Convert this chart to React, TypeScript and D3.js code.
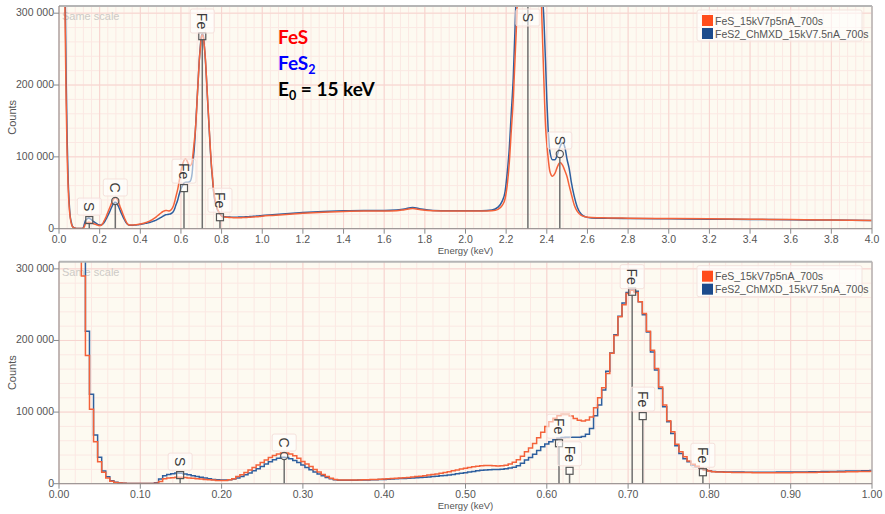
import React from "react";
import * as d3 from "d3";

const W = 885;
const H = 514;
const PLOT_L = 59;
const PLOT_R = 872;
const Y_MAX = 310000;
const CH_WIDTH = 0.005; // keV per channel

// FeS counts per channel, 0 - 1 keV (5 eV channels)
const fesLow = [
  900000, 900000, 900000, 900000, 750000, 450000, 290000, 179000, 104000, 58600,
  30700, 15900, 7800, 3500, 1800, 900, 500, 300, 200, 200,
  200, 200, 200, 300, 800, 3000, 7000, 8000, 8400, 9000,
  9000, 8500, 8000, 7500, 7000, 6500, 6000, 5500, 5000, 4500,
  4300, 4500, 5500, 7000, 10000, 12500, 15500, 19000, 22500, 26000,
  29500, 33000, 36500, 39500, 41500, 43000, 43000, 41500, 39000, 35500,
  31000, 27500, 24000, 20000, 16500, 13000, 10000, 7500, 6000, 5200,
  5000, 5000, 5100, 5200, 5300, 5400, 5600, 5800, 6000, 6200,
  6500, 6800, 7100, 7500, 7900, 8400, 8800, 9300, 9900, 10500,
  11200, 12000, 12800, 13700, 14700, 15700, 16800, 18000, 19200, 20400,
  21500, 22600, 23600, 24400, 25000, 25300, 25300, 25000, 24800, 25000,
  25800, 27500, 30000, 33500, 38500, 44500, 50000, 56000, 64000, 72000,
  80000, 86500, 91500, 95000, 96800, 96500, 94500, 91000, 88500, 87500,
  89000, 93000, 106000, 120000, 134000, 154000, 182000, 207000, 233000, 250000,
  265600, 270000, 267000, 254000, 237700, 213000, 186500, 161000, 135000, 109800,
  88000, 72500, 55000, 44600, 37700, 31700, 27000, 24300, 21500, 19200,
  17700, 16700, 16400, 16200, 16000, 15900, 15800, 15700, 15600, 15500,
  15500, 15400, 15400, 15300, 15300, 15300, 15300, 15300, 15400, 15400,
  15400, 15500, 15500, 15600, 15600, 15700, 15800, 15900, 16000, 16100,
  16200, 16300, 16400, 16500, 16600, 16700, 16800, 16900, 17000, 17200, 17400,
];

// FeS2 counts per channel, 0 - 1 keV
const fes2Low = [
  900000, 900000, 900000, 900000, 800000, 520000, 340000, 213000, 125000, 68000,
  36800, 17700, 9800, 4200, 2000, 1000, 600, 400, 300, 300,
  200, 200, 200, 400, 1500, 6500, 11200, 13000, 14000, 15000,
  14500, 13500, 12500, 11000, 10000, 9000, 8000, 7000, 6000, 5500,
  5000, 5000, 5500, 6500, 8000, 10000, 12500, 15000, 18000, 21000,
  24000, 27500, 30500, 33500, 35500, 36800, 36500, 35000, 32500, 29500,
  26000, 22500, 19500, 16500, 13500, 11000, 8500, 6800, 5500, 4900,
  4700, 4700, 4800, 4900, 5000, 5100, 5200, 5400, 5600, 5800,
  6000, 6200, 6500, 6800, 7100, 7400, 7700, 8000, 8300, 8700,
  9100, 9500, 10000, 10500, 11000, 11600, 12300, 13000, 13800, 14600,
  15400, 16200, 17100, 18000, 18800, 19300, 19600, 19800, 20000, 20300,
  20800, 21800, 23000, 25000, 28500, 33000, 36500, 41000, 46500, 51500,
  55500, 58600, 61500, 63500, 64500, 64700, 64700, 64700, 65000, 66000,
  69000, 77000, 95000, 110000, 131000, 157000, 182500, 208000, 234000, 252500,
  267000, 271000, 268600, 254000, 236000, 212000, 184000, 158600, 133000, 107500,
  86500, 70000, 53000, 42300, 35000, 30700, 26000, 23700, 21500, 19500,
  18000, 17000, 16800, 16600, 16500, 16400, 16300, 16200, 16200, 16100,
  16100, 16100, 16100, 16100, 16100, 16100, 16100, 16200, 16200, 16200,
  16300, 16300, 16400, 16500, 16500, 16600, 16700, 16800, 16900, 17000,
  17100, 17200, 17300, 17400, 17600, 17700, 17800, 17900, 18100, 18200, 18400,
];

// 1 - 4 keV, read at irregular energies
const hiEnergy = [
  1.05, 1.1, 1.2, 1.3, 1.4, 1.5, 1.6, 1.66, 1.7, 1.74,
  1.78, 1.84, 1.92, 2.0, 2.08, 2.13, 2.16, 2.18, 2.195, 2.205,
  2.215, 2.225, 2.235, 2.245, 2.255, 2.27, 2.3, 2.34, 2.37, 2.378,
  2.386, 2.394, 2.4, 2.406, 2.415, 2.428, 2.44, 2.452, 2.465, 2.478,
  2.49, 2.5, 2.51, 2.52, 2.535, 2.55, 2.57, 2.59, 2.62, 2.7,
  2.8, 3.0, 3.2, 3.4, 3.6, 3.8, 4.0,
];
const fesHigh = [
  18500, 19500, 21500, 23000, 24000, 24500, 24500, 25000, 26500, 28000,
  26500, 25000, 24500, 24500, 24500, 25000, 27000, 32000, 42000, 60000,
  90000, 135000, 180000, 245000, 320000, 600000, 1400000, 900000, 350000, 272000,
  203000, 142000, 118000, 100000, 80000, 73000, 77000, 86000, 92000, 88000,
  80000, 72000, 60000, 49000, 33000, 24000, 18500, 16500, 15500, 15000,
  14700, 14200, 13700, 13200, 12700, 12200, 11500,
];
const fes2High = [
  19500, 20500, 22500, 24000, 25000, 25500, 25500, 26000, 27500, 29500,
  27500, 25500, 25000, 25000, 25000, 26000, 30000, 38000, 52000, 77000,
  110000, 160000, 210000, 290000, 380000, 700000, 1500000, 1100000, 480000, 340000,
  290000, 230000, 180000, 142000, 108000, 96000, 96000, 103000, 114000, 120000,
  112000, 96000, 84000, 66000, 45000, 30000, 20000, 16500, 15000, 14600,
  14300, 13800, 13300, 12900, 12400, 12000, 11300,
];

// element line markers
const lineEnergy = [0.149, 0.277, 0.615, 0.628, 0.705, 0.718, 0.792, 2.307, 2.464];
const lineLabel = ["S", "C", "Fe", "Fe", "Fe", "Fe", "Fe", "S", "S"];
const lineHeight = [12000, 38600, 56500, 18000, 268000, 94400, 16000, 1500000, 104000];
const lineShape = ["square", "circle", "square", "square", "square", "square", "square", "square", "circle"];
const lineOnOverview = [true, true, true, false, true, false, true, true, true];

const seriesNames = ["FeS_15kV7p5nA_700s", "FeS2_ChMXD_15kV7.5nA_700s"];
const legendColors = ["#ff4d1c", "#1c4b8c"];
const yTicks = [0, 100000, 200000, 300000];

const RED = "#f4623a";
const BLUE = "#2e5f9e";
const BG = "#fdfaf1";
const GRID_MAJOR = "#f7d4cf";
const GRID_MINOR = "#fbe8e3";
const FONT = "'Liberation Sans', Arial, sans-serif";

type Pt = [number, number];

const lowPts = (vals: number[]): Pt[] => vals.map((v, i) => [i * CH_WIDTH, v] as Pt);
const fesAll = lowPts(fesLow).concat(hiEnergy.map((e, i) => [e, fesHigh[i]] as Pt));
const fes2All = lowPts(fes2Low).concat(hiEnergy.map((e, i) => [e, fes2High[i]] as Pt));

const fmtCounts = (v: number) => d3.format(",")(v).replace(/,/g, " ");

function Panel(props: {
  id: string;
  y0: number;
  y1: number;
  xMax: number;
  major: number;
  minor: number;
  fmt: string;
  red: Pt[];
  blue: Pt[];
  curve: d3.CurveFactory;
  overview: boolean;
}) {
  const { id, y0, y1, xMax, major, minor, fmt, red, blue, curve, overview } = props;
  const x = d3.scaleLinear().domain([0, xMax]).range([PLOT_L, PLOT_R]);
  const y = d3.scaleLinear().domain([0, Y_MAX]).range([y1, y0]);
  const line = d3
    .line<Pt>()
    .x((d) => x(d[0]))
    .y((d) => y(d[1]))
    .curve(curve);
  const xf = d3.format(fmt);
  const xMajor = d3.range(0, xMax + 1e-9, major);
  const xMinor = d3.range(0, xMax + 1e-9, minor);
  const yMinor = d3.range(0, Y_MAX, 20000);

  const marks = lineEnergy
    .map((e, i) => ({ e, i }))
    .filter((m) => m.e <= xMax && (overview ? lineOnOverview[m.i] : true));

  return (
    <g>
      <rect x={PLOT_L} y={y0} width={PLOT_R - PLOT_L} height={y1 - y0} fill={BG} />
      {xMinor.map((v, i) => (
        <line key={"xm" + i} x1={x(v)} x2={x(v)} y1={y0} y2={y1} stroke={GRID_MINOR} />
      ))}
      {yMinor.map((v, i) => (
        <line key={"ym" + i} x1={PLOT_L} x2={PLOT_R} y1={y(v)} y2={y(v)} stroke={GRID_MINOR} />
      ))}
      {xMajor.map((v, i) => (
        <line key={"xM" + i} x1={x(v)} x2={x(v)} y1={y0} y2={y1} stroke={GRID_MAJOR} />
      ))}
      {yTicks.map((v, i) => (
        <line key={"yM" + i} x1={PLOT_L} x2={PLOT_R} y1={y(v)} y2={y(v)} stroke={GRID_MAJOR} />
      ))}
      <text x={PLOT_L + 3} y={y0 + 14} fontSize={11} fill="#cdcac6" fontFamily={FONT}>
        Same scale
      </text>
      <clipPath id={id}>
        <rect x={PLOT_L} y={y0} width={PLOT_R - PLOT_L} height={y1 - y0} />
      </clipPath>
      <g clipPath={`url(#${id})`}>
        <path d={line(blue) || ""} fill="none" stroke={BLUE} strokeWidth={1.5} />
        <path d={line(red) || ""} fill="none" stroke={RED} strokeWidth={1.5} />
        {marks.map((m) => {
          const mx = x(m.e);
          const my = y(lineHeight[m.i]);
          return (
            <g key={"ml" + m.i}>
              <line x1={mx} x2={mx} y1={Math.max(my + 3.5, y0)} y2={y1} stroke="#6f6f6f" strokeWidth={1.5} />
              {my > y0 &&
                (lineShape[m.i] === "circle" ? (
                  <circle cx={mx} cy={my} r={3.6} fill="rgba(255,255,255,0.5)" stroke="#555" strokeWidth={1.2} />
                ) : (
                  <rect x={mx - 3.5} y={my - 3.5} width={7} height={7} fill="rgba(255,255,255,0.5)" stroke="#555" strokeWidth={1.2} />
                ))}
            </g>
          );
        })}
      </g>
      {marks.map((m) => {
        const mx = x(m.e);
        const my = y(lineHeight[m.i]);
        const label = lineLabel[m.i];
        const bh = label.length > 1 ? 24 : 17;
        let top = my - 5 - bh;
        if (top < y0 + 3) top = y0 + 3;
        return (
          <g key={"lb" + m.i}>
            <rect x={mx - 12} y={top} width={24} height={bh} rx={2} fill="rgba(255,255,255,0.55)" stroke="#f5e1dc" />
            <text
              transform={`translate(${mx},${top + bh / 2}) rotate(90)`}
              textAnchor="middle"
              dominantBaseline="central"
              fontSize={14}
              fill="#3a3a3a"
              fontFamily={FONT}
            >
              {label}
            </text>
          </g>
        );
      })}
      {/* frame */}
      <line x1={PLOT_L} x2={PLOT_R} y1={y0} y2={y0} stroke="#b5b5b5" strokeWidth={2} />
      <line x1={PLOT_R} x2={PLOT_R} y1={y0} y2={y1} stroke="#b5b5b5" strokeWidth={1.5} />
      <line x1={PLOT_L} x2={PLOT_L} y1={y0} y2={y1} stroke="#8a8a8a" />
      <line x1={PLOT_L} x2={PLOT_R} y1={y1} y2={y1} stroke="#8a8a8a" />
      {/* y axis */}
      {yTicks.map((v) => (
        <g key={"yt" + v}>
          <line x1={PLOT_L - 5} x2={PLOT_L} y1={y(v)} y2={y(v)} stroke="#8a8a8a" />
          <text x={PLOT_L - 5} y={y(v) + 3} textAnchor="end" fontSize={10.5} fill="#555" fontFamily={FONT}>
            {fmtCounts(v)}
          </text>
        </g>
      ))}
      <text
        transform={`translate(16,${(y0 + y1) / 2}) rotate(-90)`}
        textAnchor="middle"
        fontSize={11}
        fill="#555"
        fontFamily={FONT}
      >
        Counts
      </text>
      {/* x axis */}
      {xMajor.map((v, i) => (
        <g key={"xt" + i}>
          <line x1={x(v)} x2={x(v)} y1={y1} y2={y1 + 5} stroke="#8a8a8a" />
          <text x={x(v)} y={y1 + 14.5} textAnchor="middle" fontSize={10.5} fill="#555" fontFamily={FONT}>
            {xf(v)}
          </text>
        </g>
      ))}
      <text x={(PLOT_L + PLOT_R) / 2} y={y1 + 25} textAnchor="middle" fontSize={9.5} fill="#555" fontFamily={FONT}>
        Energy (keV)
      </text>
      {/* legend */}
      <g transform={`translate(697,${y0 + 4})`}>
        <rect width={165} height={31} rx={2} fill="rgba(255,255,255,0.6)" stroke="#f3e3de" />
        {seriesNames.map((s, i) => (
          <g key={s} transform={`translate(5,${5 + i * 13})`}>
            <rect width={11} height={11} fill={legendColors[i]} />
            <text x={13} y={9.5} fontSize={10.5} fill="#555" fontFamily={FONT}>
              {s}
            </text>
          </g>
        ))}
      </g>
    </g>
  );
}

export default function App() {
  const bottomRed = lowPts(fesLow);
  const bottomBlue = lowPts(fes2Low);
  const noteFont = "Lato, 'Open Sans', sans-serif";
  return (
    <svg
      width={W}
      height={H}
      style={{ position: "absolute", left: 0, top: 0, background: "#fff" }}
    >
      <Panel
        id="clipTop"
        y0={6}
        y1={228.7}
        xMax={4}
        major={0.2}
        minor={0.04}
        fmt=".1f"
        red={fesAll}
        blue={fes2All}
        curve={d3.curveMonotoneX}
        overview={true}
      />
      <Panel
        id="clipBottom"
        y0={261.7}
        y1={483.7}
        xMax={1}
        major={0.1}
        minor={0.02}
        fmt=".2f"
        red={bottomRed}
        blue={bottomBlue}
        curve={d3.curveStep}
        overview={false}
      />
      <g fontFamily={noteFont} fontWeight="bold" fontSize={19}>
        <text x={278} y={44} fill="#ff0000">FeS</text>
        <text x={278} y={70} fill="#0000ff">
          FeS<tspan fontSize={12.5} dy={4}>2</tspan>
        </text>
        <text x={278} y={96} fill="#000">
          E<tspan fontSize={12.5} dy={4}>0</tspan>
          <tspan dy={-4}> = 15 keV</tspan>
        </text>
      </g>
    </svg>
  );
}
